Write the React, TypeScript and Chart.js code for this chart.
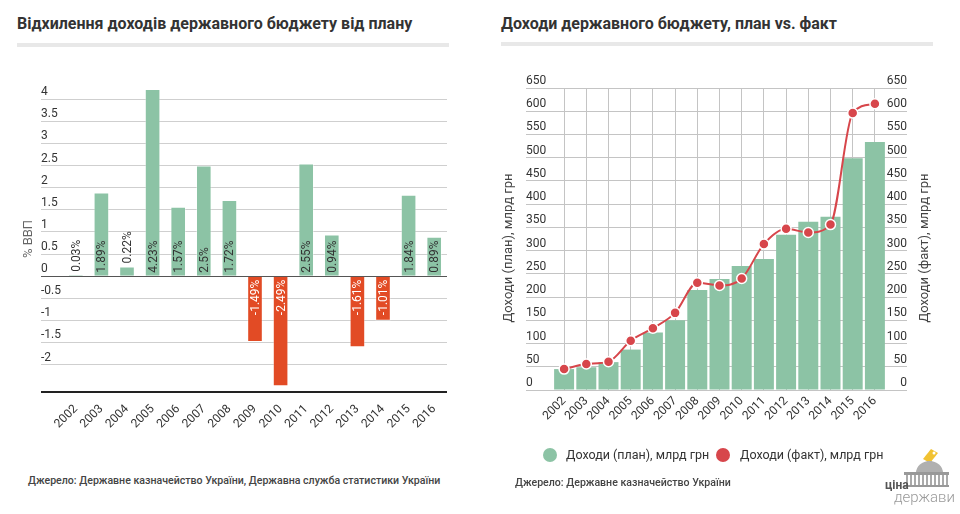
import React, { useEffect, useRef } from 'react';
import { Chart, registerables } from 'chart.js';

Chart.register(...registerables);
Chart.defaults.font.family = 'Roboto';

const YEARS = ['2002', '2003', '2004', '2005', '2006', '2007', '2008', '2009', '2010', '2011', '2012', '2013', '2014', '2015', '2016'];
const DEVIATION = [0.03, 1.89, 0.22, 4.23, 1.57, 2.5, 1.72, -1.49, -2.49, 2.55, 0.94, -1.61, -1.01, 1.84, 0.89];
const DEV_TICKS = [-2, -1.5, -1, -0.5, 0, 0.5, 1, 1.5, 2, 2.5, 3, 3.5, 4];
const DEV_MIN = -2.62;
const DEV_MAX = 4.3;

const PLAN = [45, 49, 60, 87, 124, 150, 215, 239, 267, 282, 334, 362, 373, 499, 534];
const FACT = [45, 56, 61, 106, 133, 166, 231, 225, 240, 314, 347, 339, 356, 596, 616];
const REV_MIN = 0;
const REV_MAX = 650;
const REV_STEP = 50;

const TITLE_LEFT = 'Відхилення доходів державного бюджету від плану';
const TITLE_RIGHT = 'Доходи державного бюджету, план vs. факт';
const DEV_AXIS_TITLE = '% ВВП';
const PLAN_LABEL = 'Доходи (план), млрд грн';
const FACT_LABEL = 'Доходи (факт), млрд грн';
const SOURCE_LEFT = 'Джерело: Державне казначейство України, Державна служба статистики України';
const SOURCE_RIGHT = 'Джерело: Державне казначейство України';

const GREEN = '#8cc3a5';
const RED_BAR = '#e24b25';
const RED_LINE = '#d7464b';

const devLabelsPlugin = {
  id: 'devLabels',
  afterDatasetsDraw(chart: any) {
    const { ctx } = chart;
    const meta = chart.getDatasetMeta(0);
    ctx.save();
    ctx.font = '12px Roboto';
    ctx.textBaseline = 'middle';
    meta.data.forEach((bar: any, i: number) => {
      const v = DEVIATION[i];
      const text = String(v) + '%';
      const w = ctx.measureText(text).width;
      const { x, y, base } = bar.getProps(['x', 'y', 'base'], true);
      const h = Math.abs(base - y);
      ctx.save();
      if (v >= 0) {
        if (w + 4 <= h) {
          ctx.translate(x, base - 3);
        } else {
          ctx.translate(x, y - 3);
        }
        ctx.rotate(-Math.PI / 2);
        ctx.textAlign = 'left';
        ctx.fillStyle = '#333';
      } else {
        ctx.translate(x, base + 3);
        ctx.rotate(-Math.PI / 2);
        ctx.textAlign = 'right';
        ctx.fillStyle = '#ffffff';
      }
      ctx.fillText(text, 0, 1);
      ctx.restore();
    });
    ctx.restore();
  },
};

const devTitlePlugin = {
  id: 'devTitle',
  afterDraw(chart: any) {
    const { ctx, chartArea } = chart;
    ctx.save();
    ctx.font = '13px Roboto';
    ctx.fillStyle = '#666';
    ctx.textAlign = 'center';
    ctx.textBaseline = 'middle';
    ctx.translate(chartArea.left - 34, (chartArea.top + chartArea.bottom) / 2);
    ctx.rotate(-Math.PI / 2);
    ctx.fillText(DEV_AXIS_TITLE, 0, 0);
    ctx.restore();
  },
};

const revTitlesPlugin = {
  id: 'revTitles',
  afterDraw(chart: any) {
    const { ctx, chartArea } = chart;
    const cy = (chartArea.top + chartArea.bottom) / 2 + 9;
    const items: [number, string][] = [
      [chartArea.left - 44, PLAN_LABEL],
      [chartArea.right + 39, FACT_LABEL],
    ];
    ctx.save();
    ctx.font = '13px Roboto';
    ctx.fillStyle = '#444';
    ctx.textAlign = 'center';
    ctx.textBaseline = 'middle';
    items.forEach(([x, t]) => {
      ctx.save();
      ctx.translate(x, cy);
      ctx.rotate(-Math.PI / 2);
      ctx.fillText(t, 0, 0);
      ctx.restore();
    });
    ctx.restore();
  },
};

function DeviationChart() {
  const ref = useRef<HTMLCanvasElement>(null);
  useEffect(() => {
    const chart = new Chart(ref.current as HTMLCanvasElement, {
      type: 'bar',
      data: {
        labels: YEARS,
        datasets: [
          {
            data: DEVIATION,
            backgroundColor: DEVIATION.map((v) => (v >= 0 ? GREEN : RED_BAR)),
            borderColor: 'rgba(255,255,255,0.35)',
            borderWidth: 1,
            barPercentage: 0.61,
            categoryPercentage: 1,
          },
        ],
      },
      options: {
        responsive: false,
        animation: false,
        layout: { padding: { left: 0, right: 23, top: 36, bottom: 0 } },
        plugins: { legend: { display: false }, tooltip: { enabled: false } },
        scales: {
          x: {
            grid: { display: false },
            border: { display: false },
            ticks: { autoSkip: false, minRotation: 45, maxRotation: 45, color: '#333', font: { size: 12 }, padding: 2 },
            afterFit: (s: any) => { s.height = 58; },
          },
          y: {
            min: DEV_MIN,
            max: DEV_MAX,
            afterBuildTicks: (s: any) => { s.ticks = [DEV_MIN, ...DEV_TICKS].map((v) => ({ value: v })); },
            grid: {
              color: (c: any) => (c.tick && c.tick.value === 0 ? '#555' : c.tick && c.tick.value === DEV_MIN ? '#222' : '#cfcfcf'),
              lineWidth: (c: any) => (c.tick && c.tick.value === DEV_MIN ? 2 : 1),
              drawTicks: true,
              tickLength: 22,
            },
            border: { display: false },
            ticks: {
              mirror: true,
              padding: -22,
              labelOffset: -7,
              color: '#333',
              font: { size: 12 },
              callback: (v: any) => (v === DEV_MIN ? '' : String(v)),
            },
            afterFit: (s: any) => { s.width = 63; },
          },
        },
      } as any,
      plugins: [devLabelsPlugin, devTitlePlugin],
    });
    return () => chart.destroy();
  }, []);
  return <canvas ref={ref} width={470} height={400} style={{ position: 'absolute', left: 0, top: 50, width: 470, height: 400 }} />;
}

function RevenueChart() {
  const ref = useRef<HTMLCanvasElement>(null);
  useEffect(() => {
    const chart = new Chart(ref.current as HTMLCanvasElement, {
      type: 'bar',
      data: {
        labels: YEARS,
        datasets: [
          {
            type: 'line',
            label: FACT_LABEL,
            data: FACT,
            yAxisID: 'y1',
            borderColor: RED_LINE,
            borderWidth: 2,
            backgroundColor: RED_LINE,
            pointBackgroundColor: RED_LINE,
            pointBorderColor: '#ffffff',
            pointBorderWidth: 1.5,
            pointRadius: 5,
            cubicInterpolationMode: 'monotone',
            order: 0,
          },
          {
            type: 'bar',
            label: PLAN_LABEL,
            data: PLAN,
            yAxisID: 'y',
            backgroundColor: GREEN,
            barPercentage: 0.9,
            categoryPercentage: 1,
            order: 1,
          },
        ],
      },
      options: {
        responsive: false,
        animation: false,
        layout: { padding: { left: 0, right: 0, top: 38, bottom: 0 } },
        plugins: { legend: { display: false }, tooltip: { enabled: false } },
        scales: {
          x: {
            grid: { display: true, offset: false, color: '#c4c4c4', drawTicks: false },
            border: { display: false },
            ticks: { autoSkip: false, minRotation: 45, maxRotation: 45, color: '#333', font: { size: 12 }, padding: 4 },
            afterFit: (s: any) => { s.height = 60; },
          },
          y: {
            position: 'left',
            min: REV_MIN,
            max: REV_MAX,
            ticks: { stepSize: REV_STEP, mirror: true, padding: -27, labelOffset: -7, color: '#333', font: { size: 12 } },
            grid: { color: '#c4c4c4', drawTicks: true, tickLength: 27 },
            border: { display: false },
            afterFit: (s: any) => { s.width = 73; },
          },
          y1: {
            position: 'right',
            min: REV_MIN,
            max: REV_MAX,
            ticks: { stepSize: REV_STEP, mirror: true, padding: 21, labelOffset: -7, color: '#333', font: { size: 12 } },
            grid: { color: '#c4c4c4', drawOnChartArea: false, drawTicks: true, tickLength: 21 },
            border: { display: false },
            afterFit: (s: any) => { s.width = 74; },
          },
        },
      } as any,
      plugins: [revTitlesPlugin],
    });
    return () => chart.destroy();
  }, []);
  return <canvas ref={ref} width={480} height={400} style={{ position: 'absolute', left: 480, top: 50, width: 480, height: 400 }} />;
}

function Logo() {
  const cols = [];
  for (let i = 0; i < 11; i++) {
    cols.push(<rect key={i} x={26 + i * 4} y={31} width={2} height={10} fill="#aaa" />);
  }
  return (
    <svg width={75} height={66} style={{ position: 'absolute', left: 880, top: 444 }}>
      <polygon points="43,15 51,5 58,9 50,19" fill="#f1c232" />
      <circle cx={54} cy={9} r={1.5} fill="#fff" />
      <rect x={47} y={17} width={5} height={3} fill="#b0b0b0" />
      <path d="M36,29 A13.5,12 0 0 1 63,29 Z" fill="#b0b0b0" />
      <rect x={24} y={28} width={45} height={3} fill="#999" />
      {cols}
      <rect x={24} y={41} width={45} height={2} fill="#999" />
      <text x={5} y={45} fontFamily="Roboto" fontWeight="bold" fontSize={12} fill="#555">ціна</text>
      <text x={14} y={58} fontFamily="Roboto" fontWeight={300} fontSize={15} fill="#999">держави</text>
    </svg>
  );
}

export default function App() {
  const titleStyle: React.CSSProperties = {
    position: 'absolute', top: 16, fontSize: 16, lineHeight: '16px', fontWeight: 'bold', color: '#333', whiteSpace: 'nowrap',
  };
  const sourceStyle: React.CSSProperties = {
    position: 'absolute', fontSize: 10.6, lineHeight: '12px', fontWeight: 500, color: '#444', whiteSpace: 'nowrap',
  };
  const legendText: React.CSSProperties = {
    position: 'absolute', top: 448, fontSize: 12.5, lineHeight: '14px', color: '#333', whiteSpace: 'nowrap',
  };
  return (
    <div style={{ position: 'fixed', left: 0, top: 0, width: 960, height: 514, background: '#fff', fontFamily: 'Roboto', overflow: 'hidden' }}>
      <div style={{ ...titleStyle, left: 17 }}>{TITLE_LEFT}</div>
      <div style={{ position: 'absolute', left: 17, top: 43, width: 432, height: 4, background: '#e8e8e8' }} />
      <div style={{ ...titleStyle, left: 501 }}>{TITLE_RIGHT}</div>
      <div style={{ position: 'absolute', left: 501, top: 42, width: 432, height: 4, background: '#e8e8e8' }} />
      <DeviationChart />
      <RevenueChart />
      <div style={{ position: 'absolute', left: 543, top: 448, width: 14, height: 14, borderRadius: 7, background: GREEN }} />
      <div style={{ ...legendText, left: 566 }}>{PLAN_LABEL}</div>
      <div style={{ position: 'absolute', left: 716, top: 448, width: 14, height: 14, borderRadius: 7, background: RED_LINE }} />
      <div style={{ ...legendText, left: 740 }}>{FACT_LABEL}</div>
      <div style={{ ...sourceStyle, left: 28, top: 475 }}>{SOURCE_LEFT}</div>
      <div style={{ ...sourceStyle, left: 515, top: 477 }}>{SOURCE_RIGHT}</div>
      <Logo />
    </div>
  );
}
